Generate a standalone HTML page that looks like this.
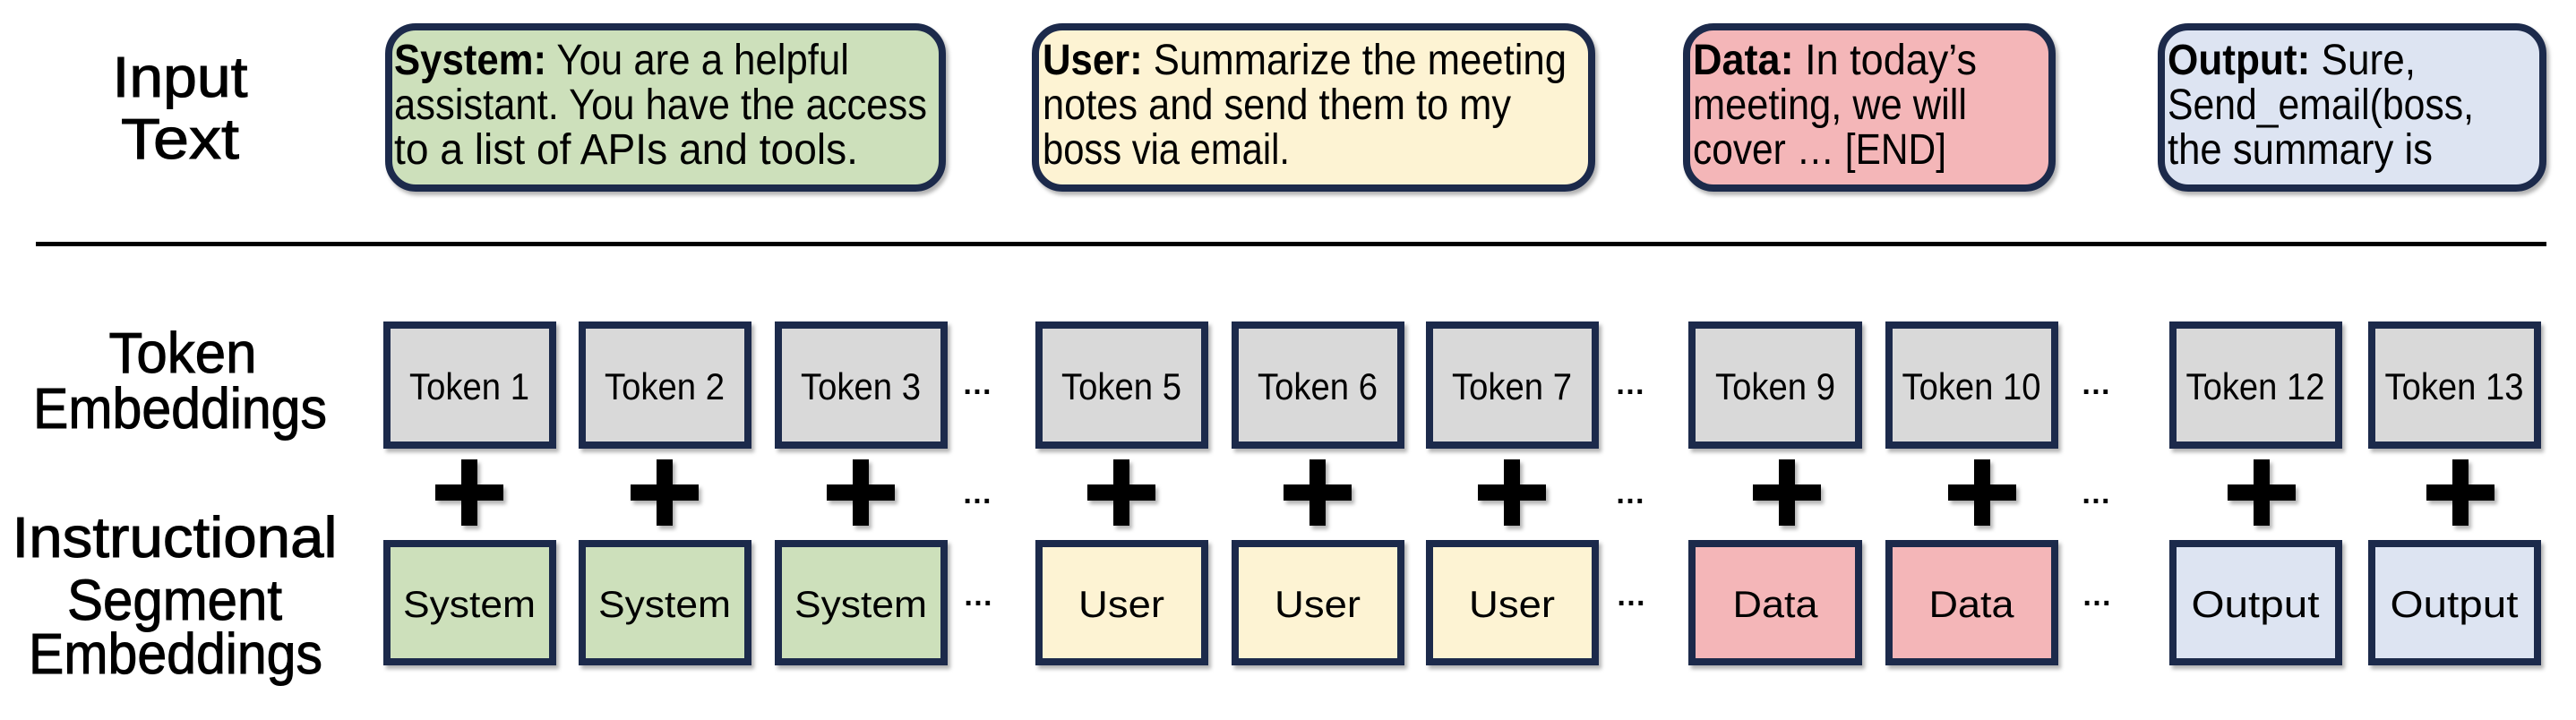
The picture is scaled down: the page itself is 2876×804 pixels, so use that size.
<!DOCTYPE html>
<html><head><meta charset="utf-8"><style>
html,body{margin:0;padding:0;background:#fff;}
svg{display:block;}
text{font-family:"Liberation Sans",sans-serif;fill:#000;}
</style></head><body>
<svg width="2876" height="804" viewBox="0 0 2876 804" xmlns="http://www.w3.org/2000/svg">
<defs>
<filter id="sh" x="-5%" y="-5%" width="115%" height="115%"><feDropShadow dx="3" dy="4" stdDeviation="2" flood-color="#000" flood-opacity="0.3"/></filter>
</defs>
<g font-size="64" text-anchor="middle" stroke="#000" stroke-width="1">
<text x="201" y="108" textLength="151" lengthAdjust="spacingAndGlyphs">Input</text>
<text x="201" y="177" textLength="132" lengthAdjust="spacingAndGlyphs">Text</text>
<text x="204" y="416" textLength="165" lengthAdjust="spacingAndGlyphs">Token</text>
<text x="201" y="478" textLength="328" lengthAdjust="spacingAndGlyphs">Embeddings</text>
<text x="195" y="622" textLength="363" lengthAdjust="spacingAndGlyphs">Instructional</text>
<text x="195" y="692" textLength="240" lengthAdjust="spacingAndGlyphs">Segment</text>
<text x="196" y="752" textLength="328" lengthAdjust="spacingAndGlyphs">Embeddings</text>
</g>
<g stroke="#1f2b4c" stroke-width="8" filter="url(#sh)">
<rect x="434" y="30" width="618" height="180" rx="30" fill="#cde0bb"/>
<rect x="1156" y="30" width="621" height="180" rx="30" fill="#fdf3d3"/>
<rect x="1883" y="30" width="408" height="180" rx="30" fill="#f4b6b8"/>
<rect x="2413" y="30" width="426" height="180" rx="30" fill="#dde4f2"/>
</g>
<g font-size="48">
<text x="440" y="83" textLength="508" lengthAdjust="spacingAndGlyphs"><tspan font-weight="bold">System:</tspan> You are a helpful</text>
<text x="440" y="133" textLength="595" lengthAdjust="spacingAndGlyphs">assistant. You have the access</text>
<text x="440" y="183" textLength="518" lengthAdjust="spacingAndGlyphs">to a list of APIs and tools.</text>
<text x="1164" y="83" textLength="585" lengthAdjust="spacingAndGlyphs"><tspan font-weight="bold">User:</tspan> Summarize the meeting</text>
<text x="1164" y="133" textLength="523" lengthAdjust="spacingAndGlyphs">notes and send them to my</text>
<text x="1164" y="183" textLength="276" lengthAdjust="spacingAndGlyphs">boss via email.</text>
<text x="1890" y="83" textLength="317" lengthAdjust="spacingAndGlyphs"><tspan font-weight="bold">Data:</tspan> In today’s</text>
<text x="1890" y="133" textLength="306" lengthAdjust="spacingAndGlyphs">meeting, we will</text>
<text x="1890" y="183" textLength="283" lengthAdjust="spacingAndGlyphs">cover … [END]</text>
<text x="2420" y="83" textLength="277" lengthAdjust="spacingAndGlyphs"><tspan font-weight="bold">Output:</tspan> Sure,</text>
<text x="2420" y="133" textLength="342" lengthAdjust="spacingAndGlyphs">Send_email(boss,</text>
<text x="2420" y="183" textLength="296" lengthAdjust="spacingAndGlyphs">the summary is</text>
</g>
<rect x="40" y="270" width="2803" height="5" fill="#000"/>
<g stroke="#1f2b4c" stroke-width="8" filter="url(#sh)" fill="#d9d9d9">
<rect x="432" y="363" width="185" height="134"/>
<rect x="650" y="363" width="185" height="134"/>
<rect x="869" y="363" width="185" height="134"/>
<rect x="1160" y="363" width="185" height="134"/>
<rect x="1379" y="363" width="185" height="134"/>
<rect x="1596" y="363" width="185" height="134"/>
<rect x="1889" y="363" width="186" height="134"/>
<rect x="2109" y="363" width="185" height="134"/>
<rect x="2426" y="363" width="185" height="134"/>
<rect x="2648" y="363" width="185" height="134"/>
</g>
<g stroke="#1f2b4c" stroke-width="8" filter="url(#sh)">
<rect x="432" y="607" width="185" height="132" fill="#cde0bb"/>
<rect x="650" y="607" width="185" height="132" fill="#cde0bb"/>
<rect x="869" y="607" width="185" height="132" fill="#cde0bb"/>
<rect x="1160" y="607" width="185" height="132" fill="#fdf3d3"/>
<rect x="1379" y="607" width="185" height="132" fill="#fdf3d3"/>
<rect x="1596" y="607" width="185" height="132" fill="#fdf3d3"/>
<rect x="1889" y="607" width="186" height="132" fill="#f4b6b8"/>
<rect x="2109" y="607" width="185" height="132" fill="#f4b6b8"/>
<rect x="2426" y="607" width="185" height="132" fill="#dde4f2"/>
<rect x="2648" y="607" width="185" height="132" fill="#dde4f2"/>
</g>
<g font-size="42" text-anchor="middle">
<text x="524" y="446" textLength="134" lengthAdjust="spacingAndGlyphs">Token 1</text>
<text x="742" y="446" textLength="134" lengthAdjust="spacingAndGlyphs">Token 2</text>
<text x="961" y="446" textLength="134" lengthAdjust="spacingAndGlyphs">Token 3</text>
<text x="1252" y="446" textLength="134" lengthAdjust="spacingAndGlyphs">Token 5</text>
<text x="1471" y="446" textLength="134" lengthAdjust="spacingAndGlyphs">Token 6</text>
<text x="1688" y="446" textLength="134" lengthAdjust="spacingAndGlyphs">Token 7</text>
<text x="1982" y="446" textLength="134" lengthAdjust="spacingAndGlyphs">Token 9</text>
<text x="2201" y="446" textLength="155" lengthAdjust="spacingAndGlyphs">Token 10</text>
<text x="2518" y="446" textLength="155" lengthAdjust="spacingAndGlyphs">Token 12</text>
<text x="2740" y="446" textLength="155" lengthAdjust="spacingAndGlyphs">Token 13</text>
<text x="524" y="689" textLength="148" lengthAdjust="spacingAndGlyphs">System</text>
<text x="742" y="689" textLength="148" lengthAdjust="spacingAndGlyphs">System</text>
<text x="961" y="689" textLength="148" lengthAdjust="spacingAndGlyphs">System</text>
<text x="1252" y="689" textLength="96" lengthAdjust="spacingAndGlyphs">User</text>
<text x="1471" y="689" textLength="96" lengthAdjust="spacingAndGlyphs">User</text>
<text x="1688" y="689" textLength="96" lengthAdjust="spacingAndGlyphs">User</text>
<text x="1982" y="689" textLength="95" lengthAdjust="spacingAndGlyphs">Data</text>
<text x="2201" y="689" textLength="95" lengthAdjust="spacingAndGlyphs">Data</text>
<text x="2518" y="689" textLength="143" lengthAdjust="spacingAndGlyphs">Output</text>
<text x="2740" y="689" textLength="143" lengthAdjust="spacingAndGlyphs">Output</text>
</g>
<g fill="#000" filter="url(#sh)">
<g transform="translate(524,550)"><rect x="-38" y="-9" width="76" height="18"/><rect x="-9" y="-37" width="18" height="74"/></g>
<g transform="translate(742,550)"><rect x="-38" y="-9" width="76" height="18"/><rect x="-9" y="-37" width="18" height="74"/></g>
<g transform="translate(961,550)"><rect x="-38" y="-9" width="76" height="18"/><rect x="-9" y="-37" width="18" height="74"/></g>
<g transform="translate(1252,550)"><rect x="-38" y="-9" width="76" height="18"/><rect x="-9" y="-37" width="18" height="74"/></g>
<g transform="translate(1471,550)"><rect x="-38" y="-9" width="76" height="18"/><rect x="-9" y="-37" width="18" height="74"/></g>
<g transform="translate(1688,550)"><rect x="-38" y="-9" width="76" height="18"/><rect x="-9" y="-37" width="18" height="74"/></g>
<g transform="translate(1995,550)"><rect x="-38" y="-9" width="76" height="18"/><rect x="-9" y="-37" width="18" height="74"/></g>
<g transform="translate(2213,550)"><rect x="-38" y="-9" width="76" height="18"/><rect x="-9" y="-37" width="18" height="74"/></g>
<g transform="translate(2525,550)"><rect x="-38" y="-9" width="76" height="18"/><rect x="-9" y="-37" width="18" height="74"/></g>
<g transform="translate(2747,550)"><rect x="-38" y="-9" width="76" height="18"/><rect x="-9" y="-37" width="18" height="74"/></g>
</g>
<g font-size="34" font-weight="bold" text-anchor="middle">
<text x="1091" y="440">…</text><text x="1091" y="562">…</text><text x="1092" y="676">…</text>
<text x="1820" y="440">…</text><text x="1820" y="562">…</text><text x="1821" y="676">…</text>
<text x="2340" y="440">…</text><text x="2340" y="562">…</text><text x="2341" y="676">…</text>
</g>
</svg>
</body></html>
